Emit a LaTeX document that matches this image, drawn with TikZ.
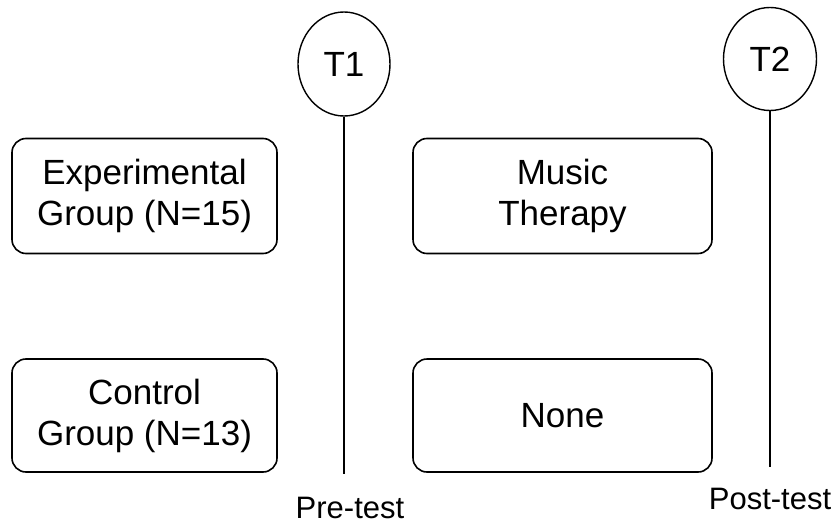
\documentclass[tikz,border=0pt]{standalone}
\usepackage{fontspec}
\setmainfont{Liberation Sans}
\usetikzlibrary{shapes.geometric}
\begin{document}
\begin{tikzpicture}[x=1pt,y=-1pt,
  box/.style={draw,line width=1.6pt,rounded corners=14pt,align=center,
    font=\fontsize{35}{41}\selectfont,inner sep=0pt},
  tcirc/.style={draw,ellipse,line width=1.4pt,inner sep=0pt,
    font=\fontsize{35}{41}\selectfont},
  tline/.style={line width=1.2pt},
  lbl/.style={font=\fontsize{31}{36}\selectfont,inner sep=0pt}]
\useasboundingbox (0,0) rectangle (840,524);
\node[box,minimum width=265pt,minimum height=115pt] (exp) at (144.5,196) {Experimental\\Group (N=15)};
\node[box,minimum width=299pt,minimum height=115pt] (mus) at (562.5,196) {Music\\Therapy};
\node[box,minimum width=265pt,minimum height=113pt] (con) at (144.5,415.5) {Control\\Group (N=13)};
\node[box,minimum width=299pt,minimum height=113pt] (non) at (562.5,415.5) {None};
\node[tcirc,minimum width=92pt,minimum height=104pt] (t1) at (344,64) {T1};
\node[tcirc,minimum width=93pt,minimum height=103pt] (t2) at (770,59) {T2};
\coordinate (t1end) at (344,474);
\coordinate (t2end) at (770,467);
\draw[tline] (t1.south) -- (t1end);
\draw[tline] (t2.south) -- (t2end);
\node[lbl] (pre) at (350,508) {Pre-test};
\node[lbl] (post) at (770,499) {Post-test};
\end{tikzpicture}
\end{document}
